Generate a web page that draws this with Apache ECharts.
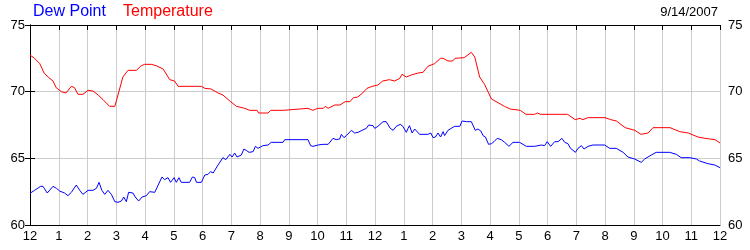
<!DOCTYPE html>
<html>
<head>
<meta charset="utf-8">
<script src="https://cdn.jsdelivr.net/npm/echarts@6/dist/echarts.min.js"></script>
<style>html,body{margin:0;padding:0;background:#fff}#c{width:750px;height:250px}</style>
</head>
<body>
<div id="c"></div>
<script>
const tickLabels = ["12","1","2","3","4","5","6","7","8","9","10","11","12","1","2","3","4","5","6","7","8","9","10","11","12"];
const yTicks = [60, 65, 70, 75];
const dateText = "9/14/2007";

const tempHours = [0,0.16,0.34,0.49,0.63,0.8,0.91,1.09,1.25,1.3,1.44,1.55,1.67,1.84,2.02,2.19,2.37,2.54,2.77,2.95,3.06,3.23,3.41,3.7,3.87,3.99,4.22,4.39,4.63,4.86,5.03,5.15,5.96,6.08,6.3,6.54,6.71,6.95,7.18,7.47,7.64,7.9,7.95,8.28,8.37,8.8,8.86,9.67,9.84,10.0,10.2,10.27,10.37,10.6,10.78,10.96,11.13,11.25,11.4,11.57,11.72,11.9,12.1,12.27,12.5,12.68,12.86,12.94,13.09,13.26,13.5,13.67,13.84,14.07,14.28,14.37,14.54,14.7,14.78,15.1,15.35,15.47,15.64,15.81,16.05,16.3,16.5,16.7,17.05,17.25,17.55,17.65,17.75,18.7,18.96,19.13,19.23,19.4,20.0,20.2,20.4,20.7,21.04,21.25,21.5,21.67,22.26,22.6,22.9,23.23,23.48,23.83,24];
const tempValues = [72.75,72.5,72.1,71.4,71.1,70.8,70.3,70.0,69.9,69.9,70.4,70.3,69.8,69.8,70.1,70.05,69.75,69.4,68.9,68.9,69.75,71.1,71.6,71.6,71.95,72.05,72.05,71.95,71.7,70.9,70.8,70.4,70.4,70.25,70.2,69.9,69.75,69.3,68.9,68.75,68.6,68.6,68.4,68.4,68.6,68.6,68.75,68.75,68.6,68.75,68.75,68.9,68.75,69.0,69.0,69.25,69.25,69.55,69.6,69.9,70.25,70.4,70.5,70.8,70.9,70.8,71.0,71.3,71.1,71.25,71.4,71.45,71.9,72.1,72.5,72.5,72.3,72.3,72.5,72.55,72.95,72.6,71.1,70.55,69.45,69.15,68.9,68.7,68.6,68.3,68.3,68.4,68.3,68.3,67.9,68.0,67.9,68.05,68.05,67.9,67.8,67.3,67.1,66.8,66.9,67.3,67.3,67.0,66.9,66.6,66.5,66.4,66.15];

const dewHours = [0,0.05,0.16,0.37,0.45,0.6,0.8,0.92,1.03,1.2,1.32,1.44,1.5,1.61,1.73,1.84,2.02,2.19,2.31,2.4,2.5,2.6,2.71,2.83,2.95,3.06,3.18,3.26,3.35,3.43,3.58,3.66,3.78,3.9,4.05,4.16,4.22,4.34,4.4,4.59,4.68,4.8,4.89,5.01,5.09,5.18,5.26,5.55,5.65,5.73,5.79,5.96,6.08,6.19,6.28,6.37,6.54,6.71,6.81,6.95,7.03,7.12,7.2,7.35,7.44,7.52,7.62,7.76,7.84,7.93,8.1,8.28,8.39,8.8,8.86,9.67,9.76,9.84,10.02,10.19,10.25,10.37,10.54,10.65,10.77,10.83,10.92,11.0,11.18,11.29,11.41,11.55,11.7,11.78,11.93,11.99,12.1,12.28,12.39,12.53,12.63,12.74,12.88,12.97,13.09,13.15,13.2,13.29,13.38,13.55,13.84,13.94,14.02,14.1,14.19,14.28,14.37,14.42,14.54,14.65,14.77,14.95,15.03,15.18,15.23,15.35,15.49,15.58,15.68,15.76,15.84,15.95,16.05,16.14,16.25,16.39,16.51,16.66,16.8,17.03,17.26,17.55,17.79,17.9,17.99,18.11,18.25,18.37,18.5,18.6,18.71,18.8,18.97,19.06,19.18,19.27,19.41,19.58,19.99,20.16,20.39,20.63,20.8,21.03,21.26,21.38,21.61,21.78,22.25,22.48,22.65,22.95,23.18,23.29,23.58,23.82,24];
const dewValues = [62.38,62.3,62.6,62.9,62.9,62.4,62.9,62.75,62.55,62.4,62.2,62.45,62.4,63.0,62.6,62.3,62.6,62.6,62.75,63.2,62.6,62.3,62.6,62.3,61.75,61.7,61.8,62.1,61.75,62.45,62.4,62.1,61.8,62.1,62.2,62.5,62.6,62.45,62.55,63.6,63.4,63.55,63.2,63.55,63.2,63.55,63.2,63.2,63.6,63.55,63.2,63.2,63.75,63.8,64.0,63.9,64.5,65.05,64.9,65.3,65.1,65.4,65.1,65.25,65.7,65.6,65.45,65.5,65.9,65.75,65.95,66.0,66.2,66.2,66.4,66.4,65.95,65.9,66.0,66.05,66.2,66.05,66.5,66.4,66.45,66.8,66.55,66.7,67.1,66.9,66.95,67.1,67.25,67.5,67.45,67.25,67.4,67.75,67.75,67.25,67.1,67.4,67.55,67.4,66.95,67.25,67.45,66.9,67.2,66.8,66.8,66.9,66.55,66.6,66.9,66.6,67.0,66.7,67.1,67.25,67.4,67.4,67.8,67.75,67.9,67.75,67.1,67.2,67.05,66.7,66.6,66.05,66.1,66.25,66.5,66.4,66.2,65.9,66.2,66.2,65.9,65.9,66.0,65.95,66.25,65.9,66.25,66.25,66.5,66.2,66.1,65.75,65.45,65.75,65.95,65.7,65.9,66.0,66.0,65.75,65.75,65.45,65.1,64.95,64.7,64.95,65.25,65.45,65.45,65.3,65.05,65.05,64.95,64.8,64.6,64.5,64.3];

const zip = (xs, ys) => xs.map((x, i) => [x, ys[i]]);
const FONT = "Liberation Sans, Arial, sans-serif";
const chart = echarts.init(document.getElementById('c'), null, {renderer: 'canvas'});
const axisBlack = {show: true, lineStyle: {color: '#000', width: 1}};
const grid = {lineStyle: {color: '#cccccc', width: 1}};

chart.setOption({
  animation: false,
  backgroundColor: '#fff',
  title: [
    {text: 'Dew Point', left: 33, top: 4, padding: 0, textStyle: {color: '#0000ff', fontSize: 16, fontWeight: 'normal', fontFamily: FONT}},
    {text: 'Temperature', left: 123, top: 4, padding: 0, textStyle: {color: '#ff0000', fontSize: 16, fontWeight: 'normal', fontFamily: FONT}},
    {text: dateText, right: 32, top: 6, padding: 0, textStyle: {color: '#000', fontSize: 13, fontWeight: 'normal', fontFamily: FONT}}
  ],
  grid: {left: 30, right: 30, top: 25, bottom: 25, containLabel: false},
  xAxis: [
    {type: 'value', min: 0, max: 24, interval: 1, position: 'bottom',
     axisLine: axisBlack, axisTick: {show: false},
     splitLine: Object.assign({show: true}, grid),
     axisLabel: {color: '#000', fontSize: 13, fontFamily: FONT, margin: 5, formatter: v => tickLabels[v]}},
    {type: 'value', min: 0, max: 24, interval: 1, position: 'top',
     axisLine: axisBlack, axisTick: {show: true, inside: true, length: 5, lineStyle: {color: '#000'}},
     splitLine: {show: false}, axisLabel: {show: false}}
  ],
  yAxis: [
    {type: 'value', min: yTicks[0], max: yTicks[yTicks.length-1], interval: 5, position: 'left',
     axisLine: axisBlack, axisTick: {show: true, inside: true, length: 5, lineStyle: {color: '#000'}},
     splitLine: Object.assign({show: true}, grid),
     axisLabel: {color: '#000', fontSize: 13, fontFamily: FONT, margin: 5}},
    {type: 'value', min: yTicks[0], max: yTicks[yTicks.length-1], interval: 5, position: 'right',
     axisLine: axisBlack, axisTick: {show: true, inside: true, length: 5, lineStyle: {color: '#000'}},
     splitLine: {show: false},
     axisLabel: {color: '#000', fontSize: 13, fontFamily: FONT, margin: 8}}
  ],
  series: [
    {name: 'Temperature', type: 'line', data: zip(tempHours, tempValues), showSymbol: false, symbol: 'none',
     lineStyle: {color: '#ff0000', width: 1}, itemStyle: {color: '#ff0000'}, z: 3},
    {name: 'Dew Point', type: 'line', data: zip(dewHours, dewValues), showSymbol: false, symbol: 'none',
     lineStyle: {color: '#0000ff', width: 1}, itemStyle: {color: '#0000ff'}, z: 3}
  ]
});
</script>
</body>
</html>
